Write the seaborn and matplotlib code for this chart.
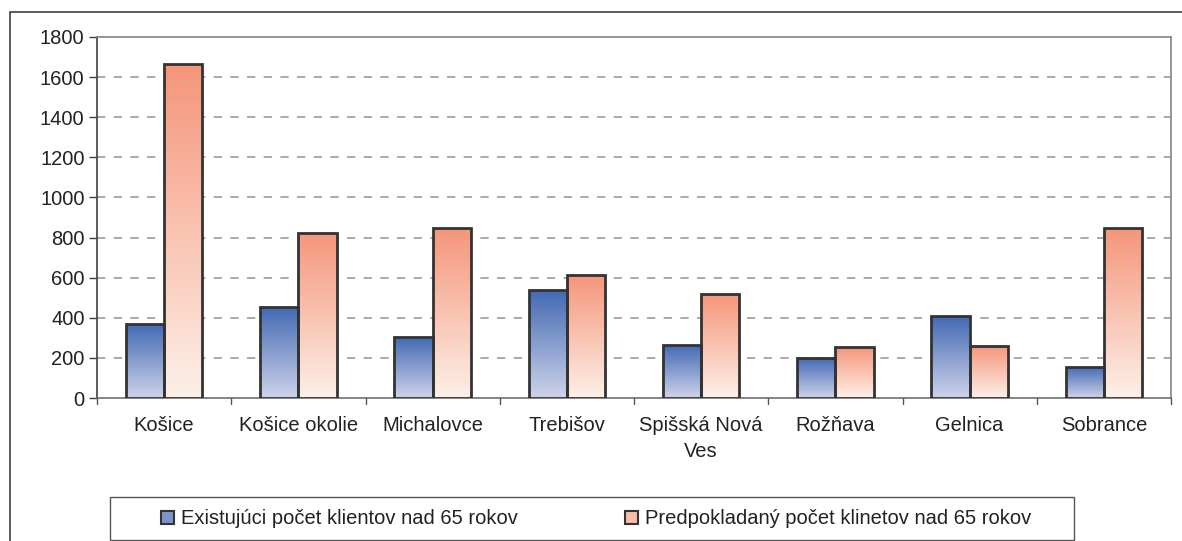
# Graf: počet klientov nad 65 rokov podľa okresov
import numpy as np
import pandas as pd
import seaborn as sns
import matplotlib.pyplot as plt
from matplotlib.patches import Rectangle, Patch
from matplotlib.colors import to_rgb

# Dáta odčítané z grafu
okresy = ['Košice', 'Košice okolie', 'Michalovce', 'Trebišov',
          'Spišská Nová\nVes', 'Rožňava', 'Gelnica', 'Sobrance']
existujuci = [370, 455, 305, 540, 265, 200, 410, 155]
predpokladany = [1665, 825, 850, 615, 520, 255, 260, 850]
serie = ['Existujúci počet klientov nad 65 rokov',
         'Predpokladaný počet klinetov nad 65 rokov']

# Farby prechodov (vrch, spodok)
modra = ('#4168B3', '#CED3EA')
oranzova = ('#F5957A', '#FDF0E8')

df = pd.DataFrame({
    'okres': okresy * 2,
    'hodnota': existujuci + predpokladany,
    'seria': [serie[0]] * len(okresy) + [serie[1]] * len(okresy),
})

sns.set_theme(style='white')
plt.rcParams['font.family'] = ['Liberation Sans', 'DejaVu Sans']
velkost = 14.5

fig = plt.figure(figsize=(11.82, 5.41), dpi=100)
ax = fig.add_axes([97 / 1182, 1 - 398 / 541, 1074 / 1182, 361 / 541])

sns.barplot(data=df, x='okres', y='hodnota', hue='seria', ax=ax,
            palette=[modra[0], oranzova[0]], width=0.57, gap=0,
            legend=False, zorder=3)


def prechod(farby, n=256):
    hore = np.array(to_rgb(farby[0]))
    dole = np.array(to_rgb(farby[1]))
    t = np.linspace(0, 1, n)[:, None]
    return (hore * (1 - t) + dole * t)[:, None, :]


# Výplň stĺpcov prechodom
patches = list(ax.patches)
for i, p in enumerate(patches):
    farby = modra if i < len(okresy) else oranzova
    x0, y0 = p.get_x(), p.get_y()
    w, h = p.get_width(), p.get_height()
    img = ax.imshow(prechod(farby), extent=[x0, x0 + w, y0, y0 + h],
                    aspect='auto', zorder=3, interpolation='bilinear')
    img.set_clip_path(p)
    p.set_facecolor('none')
    p.set_edgecolor('#333333')
    p.set_linewidth(2)
    p.set_zorder(4)

ax.set_xlim(-0.5, len(okresy) - 0.5)
ax.set_ylim(0, 1800)
ax.set_yticks(range(0, 1801, 200))
ax.set_xticks(range(len(okresy)))
ax.set_xticklabels(okresy, fontsize=velkost, color='#222222', linespacing=1.45)
ax.tick_params(axis='y', labelsize=velkost, labelcolor='#222222', length=6,
               width=1, color='#404040', direction='out', left=True, pad=3)
ax.tick_params(axis='x', length=0, pad=13)
ax.set_xlabel('')
ax.set_ylabel('')

# Značky medzi kategóriami
for k in range(len(okresy) + 1):
    ax.plot([k - 0.5, k - 0.5], [0, -1800 * 6 / 361], color='#555555',
            lw=1, clip_on=False, zorder=5)

# Mriežka
for v in range(200, 1800, 200):
    ax.axhline(v, color='#A09898', lw=1.2, ls=(0, (5, 5)), zorder=1)

for s in ['top', 'right', 'bottom']:
    ax.spines[s].set_visible(True)
    ax.spines[s].set_color('#8C8080')
    ax.spines[s].set_linewidth(1.2)
ax.spines['left'].set_color('#404040')
ax.spines['left'].set_linewidth(1.2)
ax.spines['bottom'].set_color('#707070')

# Vonkajší rámček
fig.patches.append(Rectangle((10 / 1182, -0.2), 1.2, 1.2 - 12 / 541,
                             transform=fig.transFigure, fill=False,
                             edgecolor='#404040', lw=1.2))

# Rámček legendy
fig.patches.append(Rectangle((110 / 1182, 1 - 540 / 541), 964 / 1182, 43 / 541,
                             transform=fig.transFigure, fill=False,
                             edgecolor='#555555', lw=1))

handles = [Patch(facecolor='#7F92CC', edgecolor='#333333', lw=1.5),
           Patch(facecolor='#F9BCA6', edgecolor='#333333', lw=1.5)]
fig.legend(handles, serie, loc='center', bbox_to_anchor=(596 / 1182, 1 - 519 / 541),
           ncol=2, frameon=False, fontsize=velkost, handlelength=0.65, handleheight=0.65,
           handletextpad=0.35, columnspacing=5.3, labelcolor='#222222')

fig.savefig('out.png', dpi=100)
